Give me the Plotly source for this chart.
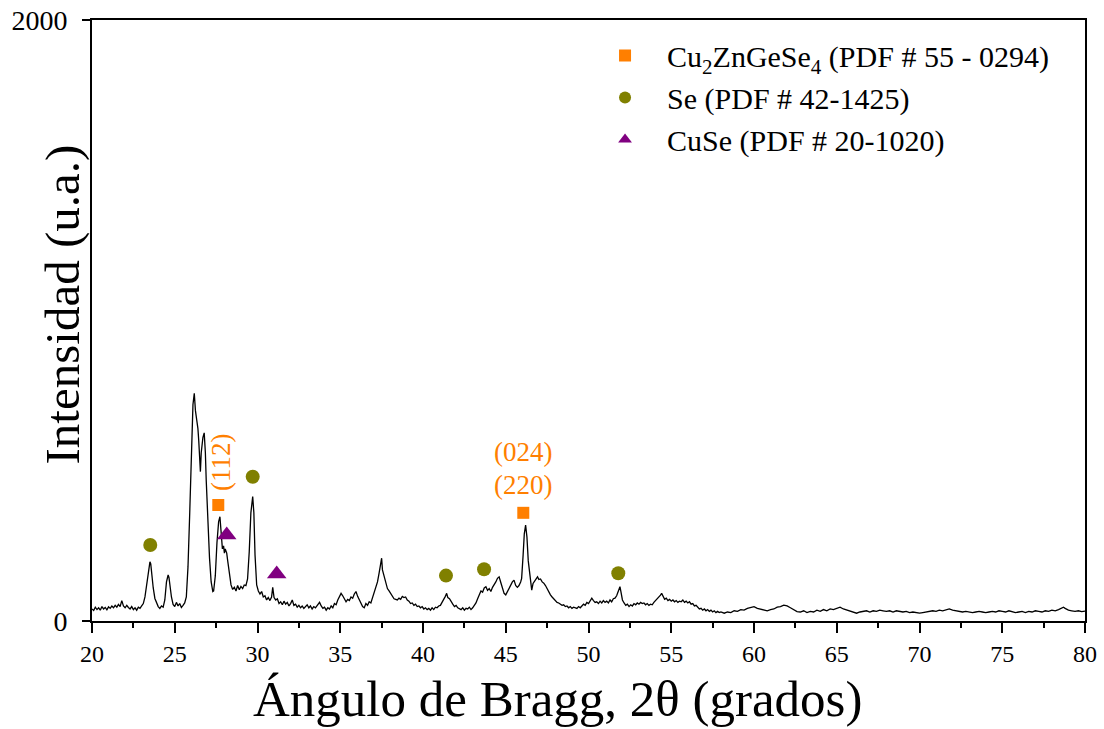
import plotly.graph_objects as go

# Diffraction pattern: 2-theta (degrees) and intensity (a.u.)
two_theta = [
    20.0, 20.1, 20.2, 20.3, 20.4, 20.5, 20.6, 20.7, 20.8, 20.9,
    21.0, 21.1, 21.2, 21.3, 21.4, 21.5, 21.6, 21.7, 21.8, 21.9,
    22.0, 22.1, 22.2, 22.3, 22.4, 22.5, 22.6, 22.7, 22.8, 22.9,
    23.0, 23.1, 23.2, 23.3, 23.4, 23.5, 23.55, 23.6, 23.7, 23.8, 23.9,
    24.0, 24.1, 24.2, 24.3, 24.4, 24.5, 24.6, 24.65, 24.7, 24.8, 24.9,
    25.0, 25.1, 25.2, 25.3, 25.4, 25.5, 25.6, 25.7, 25.8, 25.9,
    26.0, 26.1, 26.18, 26.25, 26.35, 26.4, 26.45, 26.5, 26.55, 26.6, 26.7, 26.78, 26.85, 26.9,
    27.0, 27.1, 27.2, 27.3, 27.35, 27.45, 27.55, 27.65, 27.73, 27.8, 27.88, 27.95,
    28.0, 28.05, 28.14, 28.2, 28.3, 28.4, 28.5, 28.6, 28.7, 28.8, 28.9,
    29.0, 29.1, 29.2, 29.3, 29.4, 29.5, 29.6, 29.71, 29.78, 29.85, 29.95,
    30.05, 30.15, 30.25, 30.35, 30.45, 30.55, 30.65, 30.75, 30.85, 30.92,
    31.0, 31.1, 31.2, 31.3, 31.4, 31.5, 31.6, 31.7, 31.8, 31.9,
    32.0, 32.1, 32.2, 32.3, 32.4, 32.5, 32.6, 32.7, 32.8, 32.9,
    33.0, 33.1, 33.2, 33.3, 33.4, 33.5, 33.6, 33.75, 33.85, 33.95,
    34.05, 34.15, 34.25, 34.35, 34.45, 34.55, 34.65, 34.75, 34.85, 34.95,
    35.05, 35.15, 35.25, 35.35, 35.45, 35.55, 35.65, 35.75, 35.85, 35.95,
    36.05, 36.15, 36.25, 36.35, 36.45, 36.55, 36.65, 36.75, 36.85, 36.95,
    37.05, 37.15, 37.25, 37.35, 37.45, 37.5, 37.55, 37.65, 37.75, 37.85, 37.95,
    38.05, 38.15, 38.25, 38.35, 38.45, 38.55, 38.65, 38.75, 38.85, 38.95,
    39.05, 39.15, 39.25, 39.35, 39.45, 39.55, 39.65, 39.75, 39.85, 39.95,
    40.05, 40.15, 40.25, 40.35, 40.45, 40.55, 40.65, 40.75, 40.85, 40.95,
    41.05, 41.15, 41.25, 41.35, 41.43, 41.5, 41.6, 41.7, 41.8, 41.9,
    42.0, 42.1, 42.2, 42.3, 42.4, 42.5, 42.6, 42.7, 42.8, 42.9,
    43.0, 43.1, 43.2, 43.3, 43.4, 43.5, 43.6, 43.7, 43.8, 43.9,
    44.0, 44.1, 44.2, 44.3, 44.4, 44.5, 44.6, 44.7, 44.8, 44.9,
    45.0, 45.1, 45.2, 45.3, 45.4, 45.5, 45.6, 45.7, 45.8, 45.9, 45.96,
    46.05, 46.12, 46.2, 46.28, 46.36, 46.45, 46.52, 46.57, 46.65, 46.75, 46.85, 46.92,
    47.0, 47.1, 47.2, 47.3, 47.4, 47.5, 47.6, 47.7, 47.8, 47.9,
    48.0, 48.1, 48.2, 48.3, 48.4, 48.5, 48.6, 48.7, 48.8, 48.9,
    49.0, 49.1, 49.2, 49.3, 49.4, 49.5, 49.6, 49.7, 49.8, 49.9,
    50.0, 50.1, 50.2, 50.3, 50.4, 50.5, 50.6, 50.7, 50.8, 50.9,
    51.0, 51.1, 51.2, 51.3, 51.4, 51.5, 51.6, 51.7, 51.8, 51.9, 51.95,
    52.05, 52.15, 52.25, 52.35, 52.45, 52.55, 52.65, 52.75, 52.85, 52.95,
    53.05, 53.15, 53.25, 53.35, 53.45, 53.55, 53.65, 53.75, 53.85, 53.95,
    54.05, 54.15, 54.25, 54.35, 54.42, 54.5, 54.6, 54.7, 54.8, 54.9,
    55.0, 55.1, 55.2, 55.3, 55.4, 55.5, 55.6, 55.7, 55.8, 55.9,
    56.0, 56.1, 56.2, 56.3, 56.4, 56.5, 56.6, 56.7, 56.8, 56.9,
    57.0, 57.1, 57.2, 57.3, 57.4, 57.5, 57.6, 57.7, 57.8, 57.9,
    58.0, 58.2, 58.4, 58.6, 58.8, 59.0, 59.2, 59.4, 59.6, 59.8,
    60.0, 60.2, 60.4, 60.6, 60.8, 61.0, 61.2, 61.4, 61.6, 61.8,
    62.0, 62.2, 62.4, 62.6, 62.8, 63.0, 63.2, 63.4, 63.6, 63.8,
    64.0, 64.2, 64.4, 64.6, 64.8, 65.0, 65.2, 65.4, 65.6, 65.8,
    66.0, 66.2, 66.4, 66.6, 66.8, 67.0, 67.2, 67.4, 67.6, 67.8,
    68.0, 68.2, 68.4, 68.6, 68.8, 69.0, 69.2, 69.4, 69.6, 69.8,
    70.0, 70.2, 70.4, 70.6, 70.8, 71.0, 71.2, 71.4, 71.6, 71.8,
    72.0, 72.2, 72.4, 72.6, 72.8, 73.0, 73.2, 73.4, 73.6, 73.8,
    74.0, 74.2, 74.4, 74.6, 74.8, 75.0, 75.2, 75.4, 75.6, 75.8,
    76.0, 76.2, 76.4, 76.6, 76.8, 77.0, 77.2, 77.4, 77.6, 77.8,
    78.0, 78.2, 78.4, 78.6, 78.7, 78.8, 79.0, 79.2, 79.4, 79.6, 79.8, 80.0,
]
intensity = [
    40, 35, 46, 38, 44, 36, 48, 40, 45, 37,
    47, 42, 50, 44, 52, 46, 55, 48, 68, 50,
    44, 52, 45, 40, 48, 38, 44, 36, 46, 42,
    50, 58, 80, 120, 170, 197, 190, 160, 110, 75, 60,
    48, 42, 50, 46, 70, 130, 153, 145, 120, 80, 55,
    48, 62, 50, 58, 45, 52, 60, 80, 180, 350,
    560, 720, 758, 700, 660, 640, 600, 560, 497, 560, 610, 626, 560, 470,
    330, 210, 130, 98, 100, 150, 260, 330, 347, 300, 240, 250,
    226, 240, 226, 200, 150, 120, 105, 112, 100, 118, 104,
    115, 108, 120, 118, 140, 230, 360, 414, 360, 220, 120,
    100, 90, 98, 80, 84, 70, 78, 68, 80, 112,
    78, 70, 74, 58, 64, 54, 66, 56, 62, 50,
    58, 70, 52, 56, 46, 52, 44, 50, 42, 48,
    54, 44, 50, 40, 48, 44, 52, 62, 50, 42,
    46, 36, 44, 40, 50, 44, 58, 54, 70, 80,
    92, 84, 76, 64, 72, 68, 80, 76, 90, 98,
    82, 70, 56, 48, 44, 58, 52, 64, 60, 78,
    92, 110, 130, 160, 185, 209, 170, 150, 125, 108, 100,
    92, 84, 74, 72, 70, 76, 72, 82, 78, 80,
    70, 66, 58, 60, 52, 56, 48, 50, 44, 48,
    40, 44, 38, 42, 36, 44, 38, 46, 44, 50,
    52, 62, 70, 82, 92, 78, 74, 62, 56, 48,
    52, 44, 42, 38, 44, 36, 42, 40, 46, 38,
    44, 52, 60, 74, 90, 100, 96, 110, 114, 102,
    108, 98, 112, 120, 130, 142, 147, 128, 110, 92,
    87, 98, 110, 120, 130, 136, 118, 112, 118, 130, 142,
    220, 290, 319, 280, 200, 150, 120, 103, 125, 135, 140, 147,
    138, 140, 130, 126, 118, 106, 96, 87, 80, 74,
    68, 62, 60, 56, 52, 54, 48, 50, 44, 48,
    42, 46, 44, 42, 48, 44, 50, 56, 52, 62,
    58, 66, 76, 68, 62, 64, 58, 66, 60, 68,
    62, 66, 60, 70, 64, 74, 76, 84, 96, 114, 100,
    70, 60, 52, 56, 48, 54, 50, 58, 54, 60,
    56, 62, 58, 60, 54, 58, 52, 56, 54, 62,
    68, 72, 80, 86, 92, 80, 72, 76, 68, 72,
    66, 70, 64, 68, 62, 66, 64, 70, 62, 66,
    60, 64, 56, 58, 50, 52, 44, 40, 42, 36,
    40, 34, 38, 32, 36, 30, 34, 28, 32, 28,
    30, 26, 30, 28, 34, 32, 38, 36, 42, 44,
    48, 42, 40, 36, 34, 38, 40, 46, 48, 53,
    50, 44, 38, 31, 30, 34, 28, 32, 30, 36,
    32, 38, 34, 40, 38, 42, 46, 40, 36, 32,
    30, 26, 30, 32, 34, 30, 34, 32, 36, 34,
    32, 34, 30, 34, 32, 30, 32, 28, 30, 28,
    26, 28, 30, 32, 34, 32, 36, 34, 38, 40,
    36, 34, 32, 30, 32, 30, 28, 30, 32, 30,
    28, 30, 32, 30, 34, 32, 30, 34, 32, 28,
    30, 32, 28, 32, 30, 34, 32, 30, 34, 32,
    36, 34, 38, 44, 46, 42, 36, 34, 32, 34, 31, 33,
]

# Phase identification marks
czgse_x = [27.63, 46.06]
czgse_y = [386, 360]
se_x = [23.52, 29.71, 41.39, 43.69, 51.80]
se_y = [253, 480, 151, 172, 159]
cuse_x = [28.14, 31.16]
cuse_y = [286, 156]

# Miller indices labels
hkl_112 = (27.79, 529, "(112)")
hkl_024 = (46.06, 563, "(024)")
hkl_220 = (46.06, 453, "(220)")

ORANGE = "#FF7F00"
OLIVE = "#808000"
PURPLE = "#800080"
FONT = "Liberation Serif, Times New Roman, serif"

fig = go.Figure()
fig.add_trace(go.Scatter(
    x=two_theta, y=intensity, mode="lines",
    line=dict(color="black", width=1.3), showlegend=False, hoverinfo="skip",
))
fig.add_trace(go.Scatter(
    x=czgse_x, y=czgse_y, mode="markers",
    name="Cu<sub>2</sub>ZnGeSe<sub>4</sub> (PDF # 55 - 0294)",
    marker=dict(symbol="square", size=12, color=ORANGE),
))
fig.add_trace(go.Scatter(
    x=se_x, y=se_y, mode="markers",
    name="Se (PDF # 42-1425)",
    marker=dict(symbol="circle", size=14, color=OLIVE),
))
fig.add_trace(go.Scatter(
    x=cuse_x, y=cuse_y, mode="markers",
    name="CuSe (PDF # 20-1020)",
    marker=dict(symbol="triangle-up", size=17, color=PURPLE),
))

annotations = [
    dict(x=hkl_112[0], y=hkl_112[1], text=hkl_112[2], textangle=-90,
         showarrow=False, font=dict(family=FONT, size=27, color=ORANGE),
         xanchor="center", yanchor="middle"),
    dict(x=hkl_024[0], y=hkl_024[1], text=hkl_024[2],
         showarrow=False, font=dict(family=FONT, size=27, color=ORANGE),
         xanchor="center", yanchor="middle"),
    dict(x=hkl_220[0], y=hkl_220[1], text=hkl_220[2],
         showarrow=False, font=dict(family=FONT, size=27, color=ORANGE),
         xanchor="center", yanchor="middle"),
    dict(x=0.469, y=-0.130, xref="paper", yref="paper",
         text="Ángulo de Bragg, 2θ (grados)", showarrow=False,
         font=dict(family=FONT, size=51, color="black"),
         xanchor="center", yanchor="middle"),
    dict(x=-0.030, y=0.527, xref="paper", yref="paper",
         text="Intensidad (u.a.)", textangle=-90, showarrow=False,
         font=dict(family=FONT, size=49, color="black"),
         xanchor="center", yanchor="middle"),
]

fig.update_layout(
    width=1104, height=729,
    margin=dict(l=92, r=19, t=20, b=108),
    paper_bgcolor="white", plot_bgcolor="white",
    font=dict(family=FONT, color="black"),
    annotations=annotations,
    legend=dict(
        x=0.4945, y=0.984, xanchor="left", yanchor="top",
        font=dict(family=FONT, size=30, color="black"),
        bgcolor="rgba(0,0,0,0)", itemwidth=74, tracegroupgap=0,
        itemsizing="constant",
    ),
    xaxis=dict(
        range=[20, 80], tickmode="array", automargin=False,
        tickvals=list(range(20, 81, 5)),
        ticks="outside", ticklen=10, tickwidth=2, tickcolor="black",
        minor=dict(ticks="outside", ticklen=5, tickwidth=2, tickcolor="black",
                   tickmode="array", tickvals=[22.5 + 5 * i for i in range(12)]),
        showline=True, linewidth=2, linecolor="black", mirror=True,
        showgrid=False, zeroline=False,
        tickfont=dict(family=FONT, size=24, color="black"),
    ),
    yaxis=dict(
        range=[0, 2000], tickmode="array", tickvals=[0, 2000], automargin=False,
        ticks="outside", ticklen=8, tickwidth=2, tickcolor="black",
        ticklabelstandoff=9,
        showline=True, linewidth=2, linecolor="black", mirror=True,
        showgrid=False, zeroline=False,
        tickfont=dict(family=FONT, size=28, color="black"),
    ),
)

fig.write_html("out.html")
